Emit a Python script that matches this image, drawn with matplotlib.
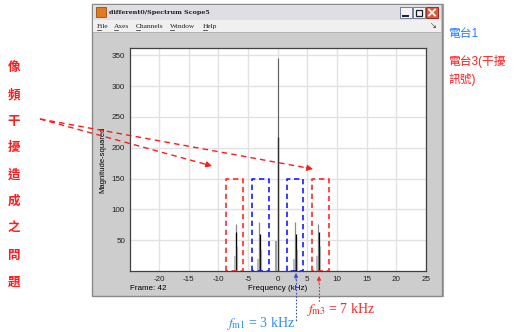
import numpy as np
import matplotlib
matplotlib.use('Agg')
import matplotlib.pyplot as plt
from matplotlib.patches import Rectangle

plt.rcParams['font.family'] = ['Liberation Sans', 'Noto Sans CJK TC']
plt.rcParams['mathtext.fontset'] = 'stix'
plt.rcParams['axes.unicode_minus'] = False

# spectrum lines (kHz, magnitude-squared)
carrier_freq = [0.0, 0.0, 0.0]
carrier_height = [345, 218, 48]
tone_freq = [-7.0, -3.1, 3.0, 6.9]
tone_top = [76, 80, 80, 76]
tone_mid = [63, 60, 60, 63]
tone_low = [40, 36, 36, 40]
tone_base = [24, 20, 20, 24]

# dashed pass-band boxes: (left, right, colour)
box_left = [-8.7, -4.4, 1.5, 5.8]
box_right = [-5.9, -1.5, 4.3, 8.7]
box_color = ['#ff2a2a', '#1a1aff', '#1a1aff', '#ff2a2a']
box_top = 150

xticks = [-20, -15, -10, -5, 0, 5, 10, 15, 20, 25]
yticks = [50, 100, 150, 200, 250, 300, 350]

side_text = list('像頻干擾造成之問題')
menu_items = ['File', 'Axes', 'Channels', 'Window', 'Help']
menu_x = [97, 114, 136, 170, 203]

W, H = 521, 332
fig = plt.figure(figsize=(W / 100, H / 100), dpi=100)
fig.patch.set_facecolor('white')


def px_axes(rect, z):
    x0, y0, x1, y1 = rect
    a = fig.add_axes([x0 / W, 1 - y1 / H, (x1 - x0) / W, (y1 - y0) / H], zorder=z)
    return a


# background (window chrome) in pixel coordinates
bg = px_axes((0, 0, W, H), 0)
bg.set_xlim(0, W)
bg.set_ylim(H, 0)
bg.axis('off')

bg.add_patch(Rectangle((92, 4), 350, 292, fc='#cdcdcd', ec='#8a8a8a', lw=1))
bg.add_patch(Rectangle((93, 5), 348, 15, fc='#dedee4', ec='none'))
bg.add_patch(Rectangle((93, 20), 348, 12, fc='#f0f0f0', ec='none'))
bg.plot([93, 441], [32, 32], color='#b0b0b0', lw=0.6)
bg.add_patch(Rectangle((96, 7), 10, 10, fc='#e07a1f', ec='#8a3a00', lw=0.5))
bg.text(109, 12.5, 'different0/Spectrum Scope5', fontsize=4.6, fontweight='bold',
        family='DejaVu Serif', va='center', ha='left', color='#202020')
for bx in (400, 413):
    bg.add_patch(Rectangle((bx, 7), 12, 11, fc='#f4f4f8', ec='#7080a0', lw=0.7))
bg.plot([403, 408], [15.5, 15.5], color='#202020', lw=1.4)
bg.add_patch(Rectangle((416, 9.5), 6, 6, fc='none', ec='#202020', lw=0.9))
bg.add_patch(Rectangle((426, 7), 12, 11, fc='#e05a3a', ec='#903020', lw=0.7))
bg.plot([429, 435], [9.5, 15.5], color='white', lw=1.3)
bg.plot([429, 435], [15.5, 9.5], color='white', lw=1.3)

for item, mx in zip(menu_items, menu_x):
    bg.text(mx, 26.5, item, fontsize=5.3, family='Liberation Serif', va='center',
            ha='left', color='#202020')
    bg.plot([mx + 0.3, mx + 3.8], [30, 30], color='#202020', lw=0.5)
bg.text(433, 27, '↘', fontsize=5, va='center', ha='center', color='#303030')
bg.plot([443, 443], [4, 296], color='#a0a0a8', lw=0.8)

bg.text(103, 160, 'Magnitude-squared', rotation=90, fontsize=5.5, va='center', ha='center')
bg.text(278, 288.5, 'Frequency (kHz)', fontsize=5.8, va='center', ha='center')
bg.text(130, 289, 'Frame: 42', fontsize=5.8, va='center', ha='left')

# spectrum axes
ax = px_axes((130, 48, 426, 271), 1)
ax.set_facecolor('white')
ax.set_xlim(-24.9, 25)
ax.set_ylim(0, 362)
ax.set_xticks(xticks)
ax.set_yticks(yticks)
ax.tick_params(length=0, labelsize=5.8, pad=3.5, colors='#202020')
ax.grid(True, color='#e2e2e2', lw=1)
ax.set_axisbelow(True)
for s in ax.spines.values():
    s.set_color('#404040')
    s.set_linewidth(0.9)

ax.vlines(carrier_freq[0], 0, carrier_height[0], color='#606060', lw=0.8)
ax.vlines(carrier_freq[1], 0, carrier_height[1], color='#303030', lw=1.0)
ax.vlines(carrier_freq[2] - 0.25, 0, carrier_height[2], color='#a0a0a0', lw=1.4)
for f, a, b, c, d in zip(tone_freq, tone_top, tone_mid, tone_low, tone_base):
    ax.vlines(f - 0.05, 0, a, color='#8a8a8a', lw=0.9)
    ax.vlines(f + 0.05, 0, b, color='black', lw=0.9)
    ax.vlines(f + 0.2, 0, c, color='#a8a8a8', lw=0.9)
    ax.vlines(f - 0.2, 0, d, color='#b0b0b0', lw=1.2)

for l, r, c in zip(box_left, box_right, box_color):
    ax.plot([l, l, r, r, l], [0, box_top, box_top, 0, 0], color=c, lw=1.2,
            dashes=(3.2, 2.2), clip_on=False)

# overlay annotations in pixel coordinates
ov = px_axes((0, 0, W, H), 2)
ov.set_xlim(0, W)
ov.set_ylim(H, 0)
ov.axis('off')

for i, ch in enumerate(side_text):
    ov.text(14, 68 + i * 26.8, ch, fontsize=9, fontweight='heavy', color='#ff1a1a',
            ha='center', va='center')

ov.text(448, 34, '電台1', fontsize=8.5, color='#2a7fff', ha='left', va='center')
ov.text(448, 61, '電台3(干擾', fontsize=8.5, color='#ff2020', ha='left', va='center')
ov.text(448, 80, '訊號)', fontsize=8.5, color='#ff2020', ha='left', va='center')

start = np.array([40.0, 119.0])
for end in (np.array([212.0, 166.0]), np.array([313.0, 169.0])):
    d = (end - start) / np.linalg.norm(end - start)
    tail = end - d * 7
    ov.plot([start[0], tail[0]], [start[1], tail[1]], color='#ff1a1a', lw=1.0,
            dashes=(4, 3))
    ov.annotate('', xy=end, xytext=tail,
                arrowprops=dict(arrowstyle='-|>', color='#ff1a1a', lw=0.8,
                                mutation_scale=9, shrinkA=0, shrinkB=0))

ov.plot([296, 296], [279, 322], color='#3050d0', lw=0.8, dashes=(1.5, 1.5))
ov.annotate('', xy=(296, 273), xytext=(296, 280),
            arrowprops=dict(arrowstyle='-|>', color='#3050d0', lw=0.6,
                            mutation_scale=6, shrinkA=0, shrinkB=0))
ov.plot([319, 319], [283, 302], color='#ff2020', lw=0.8, dashes=(1.5, 1.5))
ov.annotate('', xy=(319, 276), xytext=(319, 283),
            arrowprops=dict(arrowstyle='-|>', color='#ff2020', lw=0.6,
                            mutation_scale=6, shrinkA=0, shrinkB=0))

ov.text(226, 324, r'$f_{\mathrm{m1}}$ = 3 kHz', fontsize=10, family='Liberation Serif',
        color='#2a8cff', ha='left', va='center')
ov.text(306, 309, r'$f_{\mathrm{m3}}$ = 7 kHz', fontsize=10, family='Liberation Serif',
        color='#ff2020', ha='left', va='center')

fig.savefig('out.png', dpi=100)
